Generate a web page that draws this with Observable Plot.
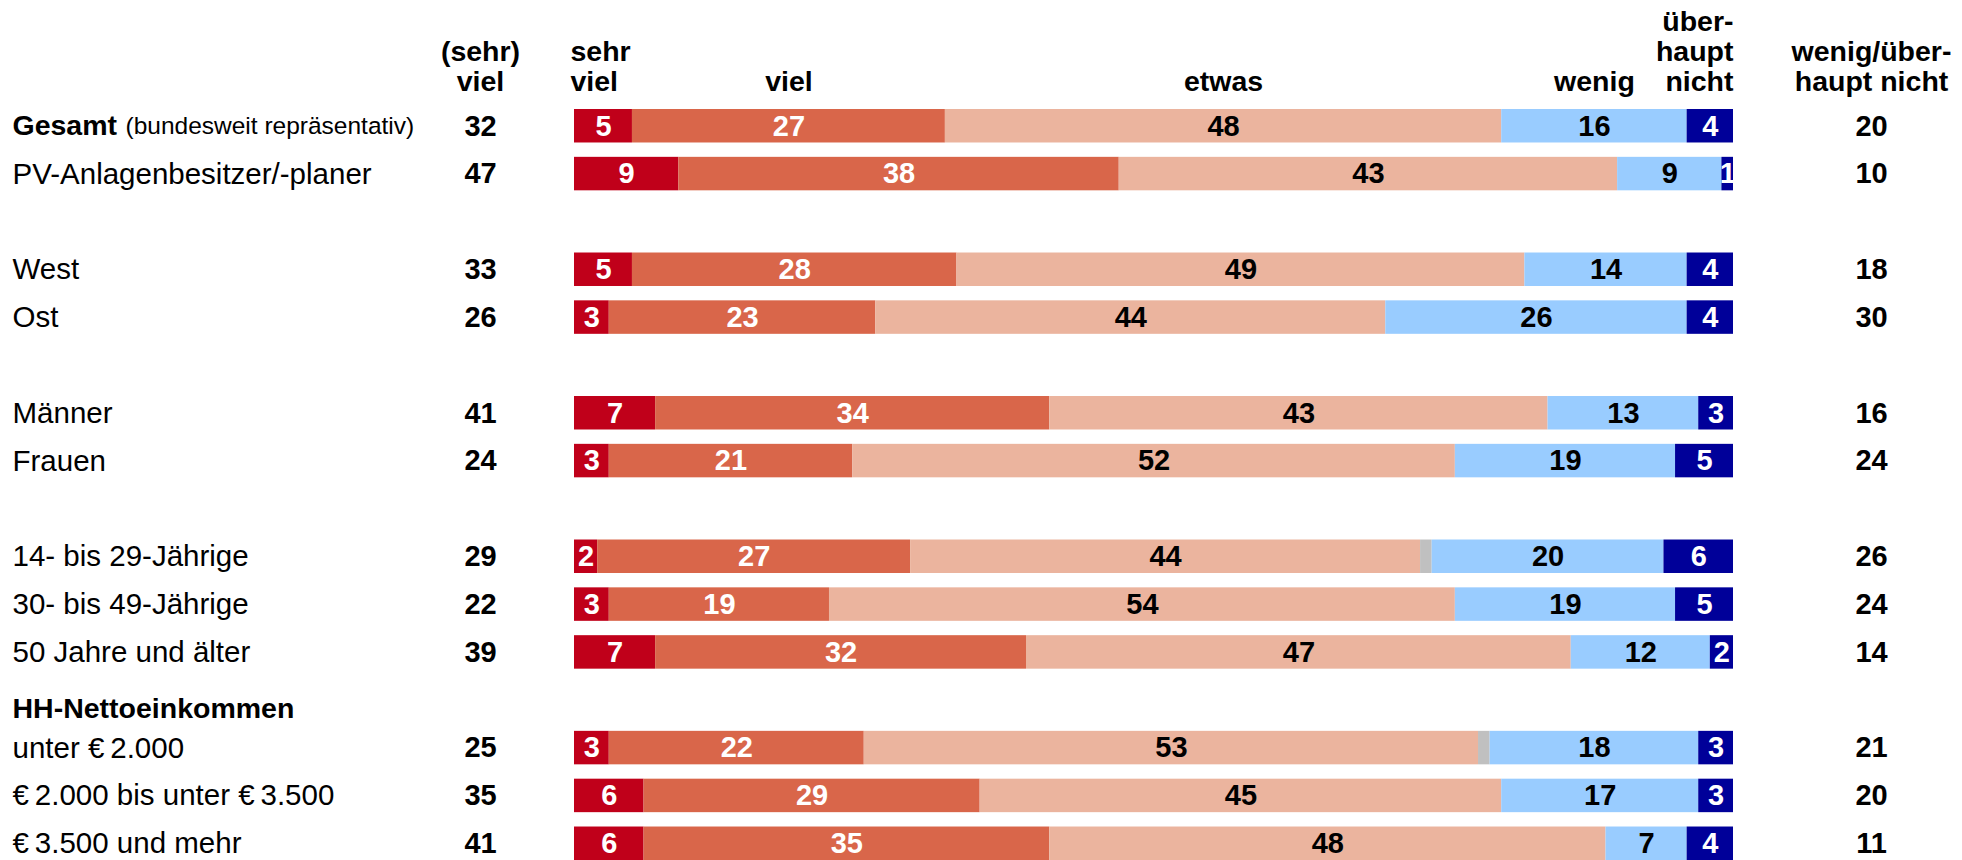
<!DOCTYPE html>
<html><head><meta charset="utf-8">
<script src="https://cdn.jsdelivr.net/npm/d3@7"></script>
<script src="https://cdn.jsdelivr.net/npm/@observablehq/plot@0.6"></script>
<style>body{margin:0;background:#fff} svg{display:block}</style>
</head><body><div id="chart"></div>
<script>
// ---- data ----
const categories = ["sehr viel", "viel", "etwas", "keine Angabe", "wenig", "überhaupt nicht"];
const headerLabels = ["sehr\nviel", "viel", "etwas", null, "wenig", "über-\nhaupt\nnicht"];
const colors = ["#C0001A", "#D9664A", "#EBB49E", "#C0C0C0", "#99CCFF", "#000099"];

const rowLabels = ["Gesamt", "PV-Anlagenbesitzer/-planer", "West", "Ost", "Männer", "Frauen",
  "14- bis 29-Jährige", "30- bis 49-Jährige", "50 Jahre und älter",
  "unter €\u20092.000", "€\u20092.000 bis unter €\u20093.500", "€\u20093.500 und mehr"];
const gesamtNote = "(bundesweit repräsentativ)";
const groupTitle = "HH-Nettoeinkommen";

const sehrViel       = [5, 9, 5, 3, 7, 3, 2, 3, 7, 3, 6, 6];
const viel           = [27, 38, 28, 23, 34, 21, 27, 19, 32, 22, 29, 35];
const etwas          = [48, 43, 49, 44, 43, 52, 44, 54, 47, 53, 45, 48];
const keineAngabe    = [0, 0, 0, 0, 0, 0, 1, 0, 0, 1, 0, 0];
const wenig          = [16, 9, 14, 26, 13, 19, 20, 19, 12, 18, 17, 7];
const ueberhauptNicht= [4, 1, 4, 4, 3, 5, 6, 5, 2, 3, 3, 4];
const sumViel        = [32, 47, 33, 26, 41, 24, 29, 22, 39, 25, 35, 41];
const sumWenig       = [20, 10, 18, 30, 16, 24, 26, 24, 14, 21, 20, 11];

const sumVielHeader = "(sehr)\nviel";
const sumWenigHeader = "wenig/über-\nhaupt nicht";

// row order incl. blank spacer slots
const yOrder = [rowLabels[0], rowLabels[1], "gap1", rowLabels[2], rowLabels[3], "gap2",
  rowLabels[4], rowLabels[5], "gap3", rowLabels[6], rowLabels[7], rowLabels[8],
  groupTitle, rowLabels[9], rowLabels[10], rowLabels[11]];

// ---- build tables ----
const series = [sehrViel, viel, etwas, keineAngabe, wenig, ueberhauptNicht];
const data = [];
rowLabels.forEach((r, i) => categories.forEach((c, j) => data.push({row: r, cat: c, value: series[j][i]})));
const rows = rowLabels.map((r, i) => ({row: r, sumViel: sumViel[i], sumWenig: sumWenig[i]}));
const gesamt = data.filter(d => d.row === rowLabels[0]);
const headerOf = d => headerLabels[categories.indexOf(d.cat)];
const whiteCats = new Set(["sehr viel", "viel", "überhaupt nicht"]);
const blackCats = new Set(["etwas", "wenig"]);

const F = "Liberation Sans, Arial, Helvetica, sans-serif";
const NUM = 29, LAB = 29.5, BLD = 28.5, HDR = 28.5, LH = 1.05, HDY = -19;

const chart = Plot.plot({
  width: 1962, height: 860,
  marginLeft: 574, marginRight: 229, marginTop: 109, marginBottom: 0,
  x: {domain: [0, 100], axis: null},
  y: {domain: yOrder, axis: null, paddingInner: 0.3, paddingOuter: 0, round: false},
  color: {domain: categories, range: colors},
  style: {fontFamily: F, color: "black", background: "white"},
  marks: [
    Plot.barX(data, Plot.stackX({x: "value", y: "row", fill: "cat", z: "cat"})),
    Plot.text(data, Plot.stackX({x: "value", y: "row", z: "cat",
      text: d => whiteCats.has(d.cat) ? String(d.value) : null,
      fill: "white", fontWeight: "bold", fontSize: NUM})),
    Plot.text(data, Plot.stackX({x: "value", y: "row", z: "cat",
      text: d => blackCats.has(d.cat) ? String(d.value) : null,
      fill: "black", fontWeight: "bold", fontSize: NUM})),
    // column headers over Gesamt segments
    Plot.text(gesamt, Plot.stackX1({x: "value", z: "cat",
      text: d => d.cat === "sehr viel" ? headerOf(d) : null,
      frameAnchor: "top", lineAnchor: "bottom", textAnchor: "start", dx: -4, dy: HDY,
      fontWeight: "bold", fontSize: HDR, lineHeight: LH})),
    Plot.text(gesamt, Plot.stackX({x: "value", z: "cat",
      text: d => ["viel", "etwas", "wenig"].includes(d.cat) ? headerOf(d) : null,
      frameAnchor: "top", lineAnchor: "bottom", dy: HDY,
      fontWeight: "bold", fontSize: HDR, lineHeight: LH})),
    Plot.text(gesamt, Plot.stackX2({x: "value", z: "cat",
      text: d => d.cat === "überhaupt nicht" ? headerOf(d) : null,
      frameAnchor: "top", lineAnchor: "bottom", textAnchor: "end", dy: HDY,
      fontWeight: "bold", fontSize: HDR, lineHeight: LH})),
    Plot.text([sumVielHeader], {text: d => d, frameAnchor: "top-left", lineAnchor: "bottom",
      textAnchor: "middle", dx: -94, dy: HDY, fontWeight: "bold", fontSize: HDR, lineHeight: LH}),
    Plot.text([sumWenigHeader], {text: d => d, frameAnchor: "top-right", lineAnchor: "bottom",
      textAnchor: "middle", dx: 138, dy: HDY, fontWeight: "bold", fontSize: HDR, lineHeight: LH}),
    // row labels
    Plot.text(rows.filter(d => d.row !== rowLabels[0]), {y: "row", text: "row", frameAnchor: "left",
      textAnchor: "start", dx: -562, fontSize: LAB}),
    Plot.text(rows.filter(d => d.row === rowLabels[0]), {y: "row", text: "row", frameAnchor: "left",
      textAnchor: "start", dx: -562, fontSize: BLD, fontWeight: "bold"}),
    Plot.text([gesamtNote], {y: () => rowLabels[0], text: d => d, frameAnchor: "left",
      textAnchor: "start", dx: -449, fontSize: 24.5}),
    Plot.text([groupTitle], {y: d => d, text: d => d, frameAnchor: "left",
      textAnchor: "start", dx: -562, dy: 9, fontSize: BLD, fontWeight: "bold"}),
    // sum columns
    Plot.text(rows, {y: "row", text: "sumViel", frameAnchor: "left", textAnchor: "middle", dx: -94,
      fontSize: NUM, fontWeight: "bold"}),
    Plot.text(rows, {y: "row", text: "sumWenig", frameAnchor: "right", textAnchor: "middle", dx: 138,
      fontSize: NUM, fontWeight: "bold"})
  ]
});
document.getElementById("chart").appendChild(chart);
</script>
</body></html>
